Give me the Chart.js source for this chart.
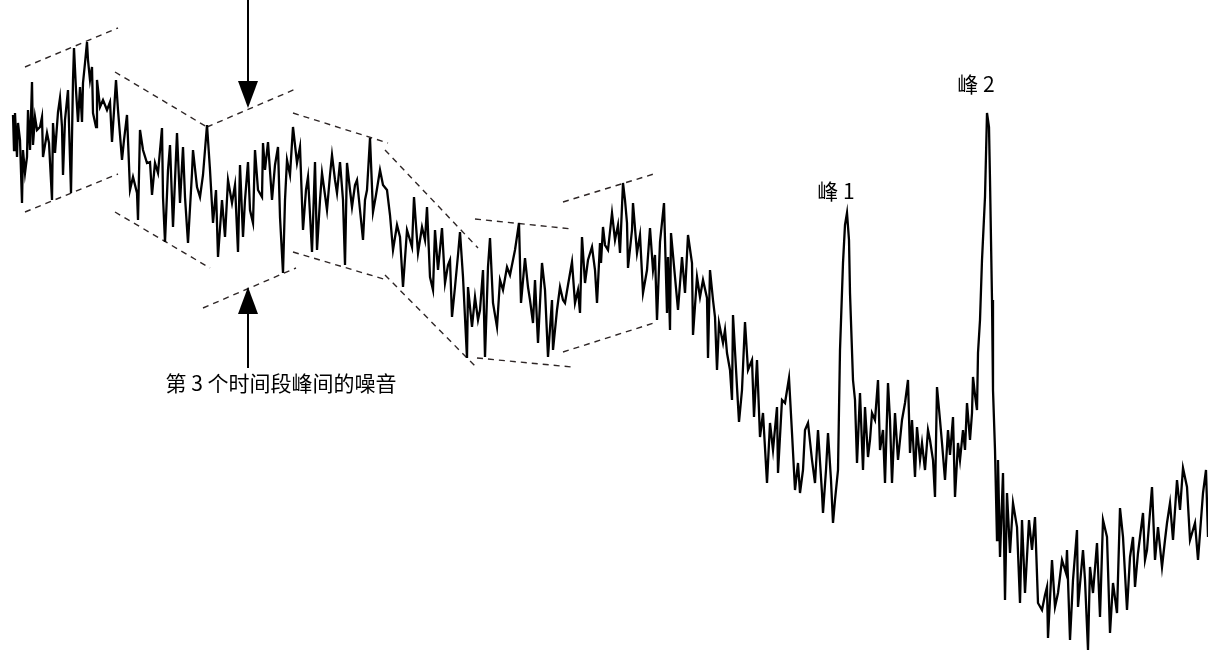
<!DOCTYPE html>
<html>
<head>
<meta charset="utf-8">
<script src="https://cdn.jsdelivr.net/npm/chart.js@4"></script>
<style>
  html, body { margin: 0; padding: 0; background: #fff; }
  #wrap { width: 1208px; height: 651px; position: relative; }
</style>
</head>
<body>
<div id="wrap"><canvas id="noiseChart"></canvas></div>
<script>
// signal: time position / level (level grows downwards, like the picture)
const signalX = [
  13,14,15,17,18,20,22,23,25,27,28,30,32,33,35,37,40,42,43,47,49,52,53,55,58,60,62,63,65,68,
  71,73,74,76,78,80,82,83,85,87,88,90,92,93,96,97,100,103,107,110,112,116,118,122,124,127,130,133,137,138,
  140,143,147,150,152,155,158,162,163,165,168,170,173,177,180,183,185,188,192,193,197,200,
  203,207,210,213,216,218,222,225,228,232,235,238,240,243,245,248,250,253,255,258,262,263,265,268,272,275,
  278,280,283,285,287,290,293,297,300,303,306,308,312,315,317,320,322,325,327,330,332,335,337,340,343,345,347,350,352,355,
  357,360,363,365,367,370,373,376,380,383,387,390,393,397,400,
  403,407,410,412,414,416,418,422,425,427,430,433,435,438,442,445,448,450,452,455,458,460,463,467,468,472,475,478,480,483,
  485,488,490,493,497,500,503,507,510,513,515,519,521,525,528,530,533,535,538,542,545,548,552,553,557,560,563,565,568,572,
  575,578,580,582,585,588,592,595,597,600,
  601,603,605,608,612,615,618,620,623,625,627,628,632,633,637,640,643,647,650,653,655,657,660,664,667,668,670,671,675,678,
  682,685,688,692,693,697,700,703,707,708,710,713,715,717,719,723,725,727,730,732,733,737,739,742,745,748,752,754,757,760,
  763,767,770,773,777,778,782,785,789,792,795,798,
  800,803,805,808,812,815,818,822,823,826,828,831,833,835,838,840,843,845,847,849,850,853,855,857,860,863,865,868,870,872,
  875,878,880,883,885,888,890,892,895,898,900,902,905,908,910,912,915,917,920,922,925,928,930,933,935,937,940,942,945,948,
  950,953,955,958,960,963,965,967,970,972,973,975,977,978,980,982,985,987,989,990,992,993,
  995,997,998,1000,1003,1005,1007,1010,1013,1017,1020,1022,1025,1029,1032,1035,1038,1042,1045,1047,1048,1052,1055,1058,1062,1066,1067,1070,1073,1077,
  1078,1083,1085,1088,1090,1093,1097,1100,1103,1107,1110,1113,1117,1120,1123,1127,1130,1133,1135,1138,1143,1145,1147,1152,1155,1158,1162,1165,1167,1170,
  1173,1177,1180,1183,1187,1190,1195,1198,1203,1206,1208
];
const signalY = [
  115,150,113,157,123,140,203,150,173,157,110,150,82,145,117,130,127,117,157,133,143,200,123,153,112,98,127,175,120,90,
  193,80,48,90,122,87,122,83,63,42,60,80,67,113,127,80,107,100,110,102,142,80,110,160,140,115,190,177,193,220,
  130,150,163,162,195,163,173,128,197,242,170,145,227,133,203,147,197,243,173,150,187,197,
  175,125,170,223,190,257,200,237,180,203,185,252,165,237,200,162,210,223,150,190,197,143,170,142,200,165,
  147,217,273,200,160,175,127,163,147,230,190,177,252,162,250,200,173,195,210,175,155,180,193,162,200,265,163,190,207,185,
  180,210,240,200,190,138,212,195,170,185,190,215,250,225,237,
  287,230,240,247,197,225,253,227,240,207,277,290,230,270,228,283,265,260,317,287,255,232,277,358,287,327,297,320,310,270,
  357,267,238,303,327,280,290,267,275,260,250,223,303,258,287,300,323,280,343,263,290,357,300,350,310,287,300,303,285,262,
  303,290,313,237,283,260,247,270,303,243,
  263,227,245,250,213,240,225,253,183,200,223,268,230,203,253,235,293,270,228,270,255,320,242,203,313,257,330,233,277,310,
  257,293,235,263,335,277,297,280,298,358,270,300,317,370,323,343,330,353,370,400,315,387,422,390,322,370,360,417,360,437,
  413,483,423,450,407,473,400,403,378,433,490,463,
  493,470,430,423,460,483,430,493,513,470,433,480,523,500,470,350,263,225,213,240,293,380,400,463,393,470,407,457,440,413,
  420,380,450,430,483,383,420,483,413,460,440,420,403,380,453,420,477,427,460,443,470,430,440,460,497,387,420,443,480,430,
  455,417,497,443,460,430,450,403,440,413,377,395,410,353,320,260,197,113,127,180,300,390,
  450,540,460,557,473,600,493,553,503,527,603,520,593,520,550,517,603,610,595,587,638,560,607,593,560,573,550,640,580,530,
  607,550,580,650,567,593,543,617,520,537,633,583,613,508,537,610,557,537,587,553,513,560,550,487,560,527,567,540,523,503,
  540,480,510,468,487,540,523,560,493,470,537
];

// dashed envelope lines around the noise: [x1, y1, x2, y2]
const envelopeLines = [
  [25, 67, 118, 28],  [25, 212, 118, 174],
  [115, 72, 207, 127], [115, 212, 210, 268],
  [207, 127, 298, 88], [203, 308, 296, 268],
  [293, 113, 388, 143], [293, 252, 387, 280],
  [385, 150, 478, 248], [385, 275, 477, 368],
  [475, 219, 572, 229], [477, 358, 572, 367],
  [563, 202, 657, 173], [563, 352, 657, 322]
];

// arrows: [x, yStart, yTip]
const arrows = [[248, 0, 108], [248, 368, 287]];

const labels = [
  { text: '峰 1', x: 836, y: 191 },
  { text: '峰 2', x: 976, y: 84 },
  { text: '第 3 个时间段峰间的噪音', x: 281, y: 383 }
];

const datasets = [{
  data: signalX.map((x, i) => ({ x: x, y: signalY[i] })),
  borderColor: '#000',
  borderWidth: 2.3,
  pointRadius: 0,
  tension: 0,
  borderJoinStyle: 'miter'
}];
envelopeLines.forEach(function (l) {
  datasets.push({
    data: [{ x: l[0], y: l[1] }, { x: l[2], y: l[3] }],
    borderColor: '#2e2626',
    borderWidth: 1.4,
    borderDash: [6, 5],
    pointRadius: 0
  });
});

const annotate = {
  id: 'annotate',
  afterDatasetsDraw(chart) {
    const c = chart.ctx, sx = chart.scales.x, sy = chart.scales.y;
    c.save();
    c.strokeStyle = '#000';
    c.fillStyle = '#000';
    c.lineWidth = 2;
    arrows.forEach(function (a) {
      const x = sx.getPixelForValue(a[0]);
      const y0 = sy.getPixelForValue(a[1]);
      const tip = sy.getPixelForValue(a[2]);
      const dir = tip > y0 ? 1 : -1;
      const base = tip - dir * 27;
      c.beginPath();
      c.moveTo(x, y0);
      c.lineTo(x, base);
      c.stroke();
      c.beginPath();
      c.moveTo(x, tip);
      c.lineTo(x - 10, base);
      c.lineTo(x + 10, base);
      c.closePath();
      c.fill();
    });
    c.font = '21px "Noto Sans CJK SC"';
    c.textAlign = 'center';
    c.textBaseline = 'middle';
    labels.forEach(function (t) {
      c.fillText(t.text, sx.getPixelForValue(t.x), sy.getPixelForValue(t.y));
    });
    c.restore();
  }
};

const ctx = document.getElementById('noiseChart').getContext('2d');
const noiseChart = new Chart(ctx, {
  type: 'line',
  data: { datasets: datasets },
  options: {
    responsive: true,
    maintainAspectRatio: false,
    animation: false,
    layout: { padding: 0 },
    scales: {
      x: { type: 'linear', min: 0, max: 1208, display: false },
      y: { type: 'linear', min: 0, max: 651, reverse: true, display: false }
    },
    plugins: {
      legend: { display: false },
      tooltip: { enabled: false }
    }
  },
  plugins: [annotate]
});
</script>
</body>
</html>
